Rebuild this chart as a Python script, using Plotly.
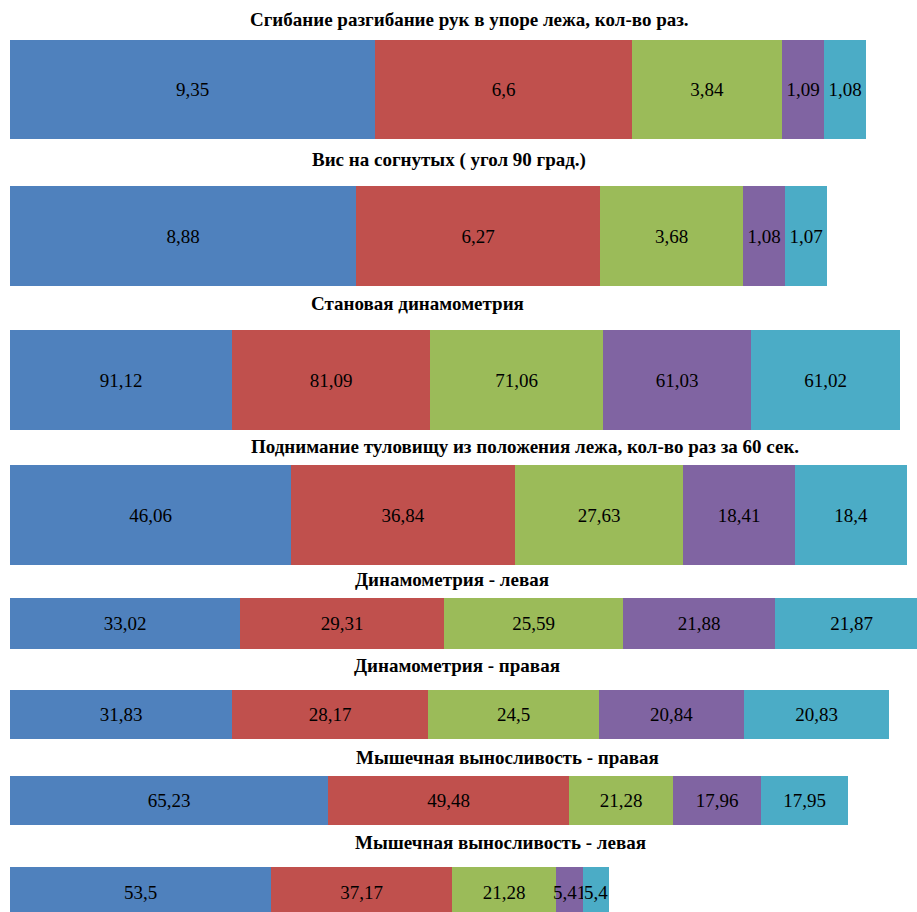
import plotly.graph_objects as go

# ---- data ----
titles = [
    "Сгибание разгибание рук в упоре лежа, кол-во раз.",
    "Вис на согнутых ( угол 90 град.)",
    "Становая динамометрия",
    "Подниманиe туловищу из положения лежа, кол-во раз за 60 сек.",
    "Динамометрия - левая",
    "Динамометрия - правая",
    "Мышечная выносливость - правая",
    "Мышечная выносливость - левая",
]
series1 = [9.35, 8.88, 91.12, 46.06, 33.02, 31.83, 65.23, 53.5]
series2 = [6.6, 6.27, 81.09, 36.84, 29.31, 28.17, 49.48, 37.17]
series3 = [3.84, 3.68, 71.06, 27.63, 25.59, 24.5, 21.28, 21.28]
series4 = [1.09, 1.08, 61.03, 18.41, 21.88, 20.84, 17.96, 5.41]
series5 = [1.08, 1.07, 61.02, 18.4, 21.87, 20.83, 17.95, 5.4]
series = [series1, series2, series3, series4, series5]

# ---- styling / layout constants ----
colors = ["#4F81BD", "#C0504D", "#9BBB59", "#8064A2", "#4BACC6"]
FONT = "Liberation Serif"
W, H = 917, 912
ML = 10
plot_w = W - ML
px_per_unit = [39.0, 38.95, 2.436, 6.09, 6.97, 6.97, 4.875, 4.88]
bar_top = [40, 186, 330, 465, 598, 690, 776, 867]
bar_bot = [139, 286, 430, 565, 649, 739, 825, 917]
title_y = [20, 160, 304, 447, 579, 665, 757, 842]
title_x = [469, 449, 417, 525, 452, 457, 507, 500]

def fmt(v):
    s = f"{v:.2f}".rstrip("0").rstrip(".")
    return s.replace(".", ",")

fig = go.Figure()
for i in range(len(titles)):
    ax = "" if i == 0 else str(i + 1)
    for k, s in enumerate(series):
        fig.add_trace(go.Bar(
            x=[s[i]], y=[0], orientation="h", width=1,
            marker=dict(color=colors[k], line=dict(width=0)),
            text=[fmt(s[i])], textposition="inside", insidetextanchor="middle",
            textangle=0, constraintext="none",
            textfont=dict(family=FONT, size=19, color="black"),
            xaxis="x" + ax, yaxis="y" + ax, showlegend=False,
            hoverinfo="skip",
        ))
    xmax = plot_w / px_per_unit[i]
    ytop = 1 - bar_top[i] / H
    ybot = max(0, 1 - bar_bot[i] / H)
    full_h = bar_bot[i] - bar_top[i]
    vis_h = min(bar_bot[i], H) - bar_top[i]
    fig.layout["xaxis" + ax] = dict(domain=[0, 1], range=[0, xmax], visible=False,
                                    anchor="y" + ax, fixedrange=True)
    fig.layout["yaxis" + ax] = dict(domain=[ybot, ytop], range=[0.5 - vis_h / full_h, 0.5],
                                    visible=False, anchor="x" + ax, fixedrange=True)
    fig.add_annotation(
        x=(title_x[i] - ML) / plot_w, y=1 - title_y[i] / H, xref="paper", yref="paper",
        text="<b>" + titles[i] + "</b>", showarrow=False, xanchor="center", yanchor="middle",
        font=dict(family=FONT, size=19, color="black"),
    )

fig.update_layout(
    width=W, height=H, barmode="stack", bargap=0,
    margin=dict(l=ML, r=0, t=0, b=0),
    paper_bgcolor="white", plot_bgcolor="white",
    font=dict(family=FONT),
)
fig.write_html("out.html")
